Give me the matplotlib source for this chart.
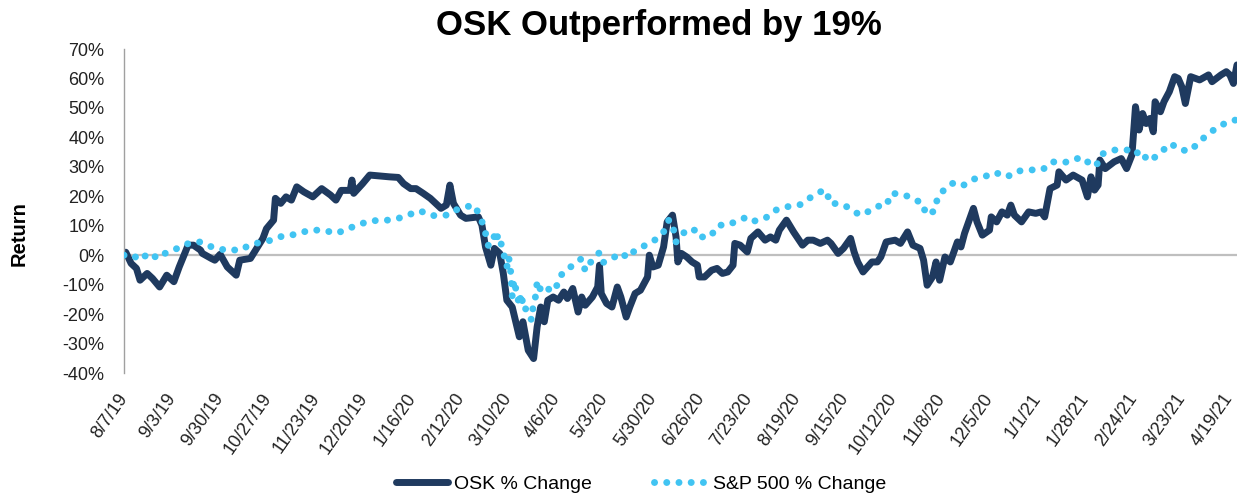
import numpy as np
import pandas as pd
import matplotlib
matplotlib.use('Agg')
import matplotlib.pyplot as plt
from matplotlib.lines import Line2D

plt.rcParams['font.family'] = ['Liberation Sans', 'DejaVu Sans']

start = pd.Timestamp('2019-08-07')

# days since 8/7/19 and % change
osk_days = [0, 1, 4, 7, 9, 13, 16, 20, 24, 28, 31, 36, 39, 43, 44, 49, 51, 54, 58, 63,
            65, 71, 75, 78, 80, 84, 85, 88, 91, 94, 97, 101, 106, 111, 116, 119, 122, 127, 128, 129,
            134, 138, 149, 154, 157, 161, 164, 168, 172, 176, 178, 181, 183, 185, 189, 192, 199, 201, 203, 206,
            208, 211, 213, 215, 218, 220, 222, 224, 227, 230, 232, 234, 236, 238, 241, 244, 247, 249, 252, 255,
            257, 259, 263, 266, 267, 268, 271, 274, 277, 279, 282, 284, 287, 290, 294, 295, 297, 300, 303, 305,
            308, 310, 311, 313, 316, 319, 322, 323, 326, 330, 333, 336, 339, 342, 343, 346, 350, 352, 356, 360,
            363, 366, 368, 372, 376, 381, 384, 387, 391, 395, 397, 401, 404, 408, 410, 412, 415, 420, 423, 425,
            428, 433, 436, 440, 443, 447, 449, 451, 454, 456, 458, 461, 464, 468, 470, 472, 477, 479, 482, 486,
            487, 490, 493, 496, 498, 500, 504, 508, 512, 515, 517, 520, 524, 525, 529, 533, 538, 541, 543, 545,
            547, 548, 551, 556, 560, 563, 566, 568, 570, 572, 574, 576, 578, 579, 582, 584, 587, 590, 592, 594,
            596, 599, 604, 609, 611, 616, 619, 621, 623, 625]
osk_pct = [0.0, 1.0, -2.8, -4.5, -8.5, -6.2, -7.9, -10.8, -6.8, -9.0, -4.0, 3.4, 3.4, 1.7, 0.6, -1.1, -1.7, 0.3, -4.0, -6.8,
           -1.7, -1.1, 2.8, 5.7, 9.0, 11.9, 19.3, 17.6, 19.8, 18.7, 23.2, 21.5, 19.8, 22.6, 20.4, 18.7, 22.0, 22.0, 25.5, 21.0,
           24.3, 27.2, 26.6, 26.4, 24.3, 22.6, 22.6, 21.0, 19.3, 17.0, 15.9, 17.0, 23.8, 17.6, 13.6, 12.5, 13.0, 10.2, 2.8, -3.4,
           2.3, 0.6, -6.2, -15.3, -17.6, -22.6, -27.7, -22.6, -32.3, -35.1, -24.3, -17.6, -22.6, -15.3, -14.2, -15.3, -12.5, -14.7, -11.3, -19.3,
           -14.2, -17.0, -14.2, -10.8, -3.4, -13.0, -16.4, -17.6, -10.8, -14.2, -21.0, -17.6, -13.0, -11.9, -7.4, 0.0, -4.0, -3.4, 2.8, 11.3,
           13.6, 6.2, -2.3, 0.6, -0.6, -2.3, -3.4, -7.4, -7.4, -5.1, -4.5, -6.2, -5.7, -3.4, 4.0, 3.4, 1.1, 5.7, 7.9, 5.1,
           6.2, 5.1, 8.5, 11.9, 7.9, 3.4, 5.1, 5.1, 4.0, 5.1, 4.0, 0.6, 2.3, 5.7, 1.1, -2.3, -5.7, -2.3, -2.3, -0.6,
           4.5, 5.1, 4.0, 7.9, 3.4, 2.3, -1.7, -10.2, -7.4, -2.3, -8.5, -0.6, -2.3, 4.5, 2.8, 7.4, 15.9, 11.3, 6.8, 8.5,
           13.0, 11.3, 14.7, 13.6, 17.0, 13.6, 11.3, 14.7, 14.2, 14.7, 13.0, 22.6, 23.8, 28.3, 25.5, 27.2, 25.5, 19.8, 26.6, 22.1,
           23.8, 32.3, 29.4, 31.7, 32.8, 29.4, 34.0, 50.4, 42.5, 48.1, 44.7, 46.4, 41.9, 52.1, 48.7, 52.1, 55.5, 60.6, 60.0, 57.2,
           51.5, 60.6, 59.5, 61.2, 58.9, 61.2, 62.3, 61.2, 58.3, 64.6]

sp_days = [0, 1, 5, 9, 14, 19, 24, 30, 37, 43, 50, 55, 59, 64, 70, 76, 83, 89, 97, 104,
           112, 119, 125, 131, 139, 146, 152, 159, 166, 173, 177, 182, 187, 193, 196, 198, 201, 202, 203, 204,
           205, 208, 209, 210, 211, 212, 215, 216, 217, 218, 219, 222, 223, 224, 225, 226, 229, 230, 231, 232,
           233, 236, 240, 244, 246, 250, 253, 257, 259, 263, 267, 269, 275, 279, 283, 287, 291, 298, 303, 306,
           308, 310, 311, 314, 315, 322, 324, 329, 334, 339, 343, 350, 354, 360, 366, 372, 380, 386, 391, 394,
           397, 400, 405, 410, 414, 417, 423, 428, 431, 437, 443, 449, 450, 455, 457, 462, 466, 471, 477, 483,
           489, 496, 501, 508, 516, 521, 528, 534, 540, 542, 546, 549, 556, 563, 568, 571, 575, 577, 582, 588,
           592, 598, 602, 608, 614, 620, 625]
sp_pct = [0.0, -0.3, 0.0, -1.7, 0.8, -1.1, 1.0, 2.3, 4.2, 4.5, 2.6, 1.9, 2.2, 1.5, 3.2, 4.3, 5.1, 6.5, 7.1, 8.5,
          8.5, 7.4, 8.7, 10.3, 11.7, 11.8, 12.1, 13.5, 15.1, 13.4, 13.6, 13.6, 15.5, 16.5, 17.1, 15.5, 11.5, 8.5, 7.5, 3.8,
          3.0, 6.5, 4.5, 7.0, 5.0, 3.5, -4.0, -0.5, -4.5, -13.9, -8.5, -17.0, -13.0, -16.7, -16.2, -20.0, -22.0, -15.5, -14.3, -9.2,
          -11.8, -10.0, -12.5, -9.6, -6.2, -4.3, -3.1, -1.1, -5.3, -1.5, 0.9, -2.5, -0.8, 0.8, -0.9, 1.7, 2.8, 5.1, 7.9, 12.0,
          10.5, 4.5, 5.5, 7.0, 8.5, 8.5, 6.2, 6.2, 10.2, 10.2, 11.3, 13.0, 11.6, 12.5, 15.3, 16.4, 17.2, 19.8, 21.5, 22.1,
          17.3, 17.6, 16.8, 14.7, 13.6, 14.5, 16.6, 16.8, 21.0, 20.7, 19.3, 17.3, 13.9, 14.9, 19.8, 23.2, 24.6, 23.6, 25.8, 26.6,
          28.1, 26.6, 28.5, 28.9, 29.1, 31.7, 31.4, 32.8, 32.8, 30.8, 30.4, 34.3, 35.7, 35.7, 35.9, 32.6, 33.6, 32.3, 34.9, 37.9,
          36.0, 35.3, 37.3, 40.8, 43.4, 45.3, 46.0]

tick_dates = pd.date_range(start, periods=24, freq='27D')
tick_labels = [f'{d.month}/{d.day}/{d.year % 100}' for d in tick_dates]

osk_x = start + pd.to_timedelta(osk_days, unit='D')
sp_x = start + pd.to_timedelta(sp_days, unit='D')

navy = '#1F3A5F'
sky = '#41C4F2'
dots = (0, (0.01, 1.75))

fig = plt.figure(figsize=(12.38, 4.96), dpi=100)
ax = fig.add_axes([124 / 1238, 1 - 373 / 496, (1237 - 124) / 1238, (373 - 49) / 496])

ax.axhline(0, color='#BFBFBF', lw=1.6, zorder=1)
ax.plot(osk_x, osk_pct, color=navy, lw=5, solid_joinstyle='round', solid_capstyle='round', zorder=2)
ax.plot(sp_x, sp_pct, color=sky, lw=5, linestyle=dots, dash_capstyle='round', zorder=3)

ax.set_ylim(-40, 70)
ax.set_yticks(np.arange(-40, 71, 10))
ax.set_yticklabels([f'{v}%' for v in range(-40, 71, 10)], fontsize=13)
ax.set_xlim(start, start + pd.Timedelta(days=625))
ax.set_xticks(tick_dates)
ax.set_xticklabels(tick_labels, rotation=55, ha='right', va='center', rotation_mode='anchor', fontsize=13)
ax.tick_params(axis='y', length=0, pad=14, colors='#222222')
ax.tick_params(axis='x', length=0, pad=16, colors='#222222')

for s in ['top', 'right', 'bottom']:
    ax.spines[s].set_visible(False)
ax.spines['left'].set_color('#A0A0A0')
ax.spines['left'].set_linewidth(1)

fig.text(659 / 1238, 1 - 26 / 496, 'OSK Outperformed by 19%', ha='center', va='center',
         fontsize=25, fontweight='bold')
fig.text(19 / 1238, 1 - 234 / 496, 'Return', rotation=90, ha='center', va='center',
         fontsize=14.5, fontweight='bold')

handles = [Line2D([], [], color=navy, lw=5, solid_capstyle='round'),
           Line2D([], [], color=sky, lw=5, linestyle=dots, dash_capstyle='round')]
fig.legend(handles, ['OSK % Change', 'S&P 500 % Change'], loc='center',
           bbox_to_anchor=(641 / 1238, 1 - 484 / 496), ncol=2, frameon=False, fontsize=14,
           handlelength=2.7, handletextpad=0.3, columnspacing=3.2)

fig.savefig('out.png', dpi=100)
